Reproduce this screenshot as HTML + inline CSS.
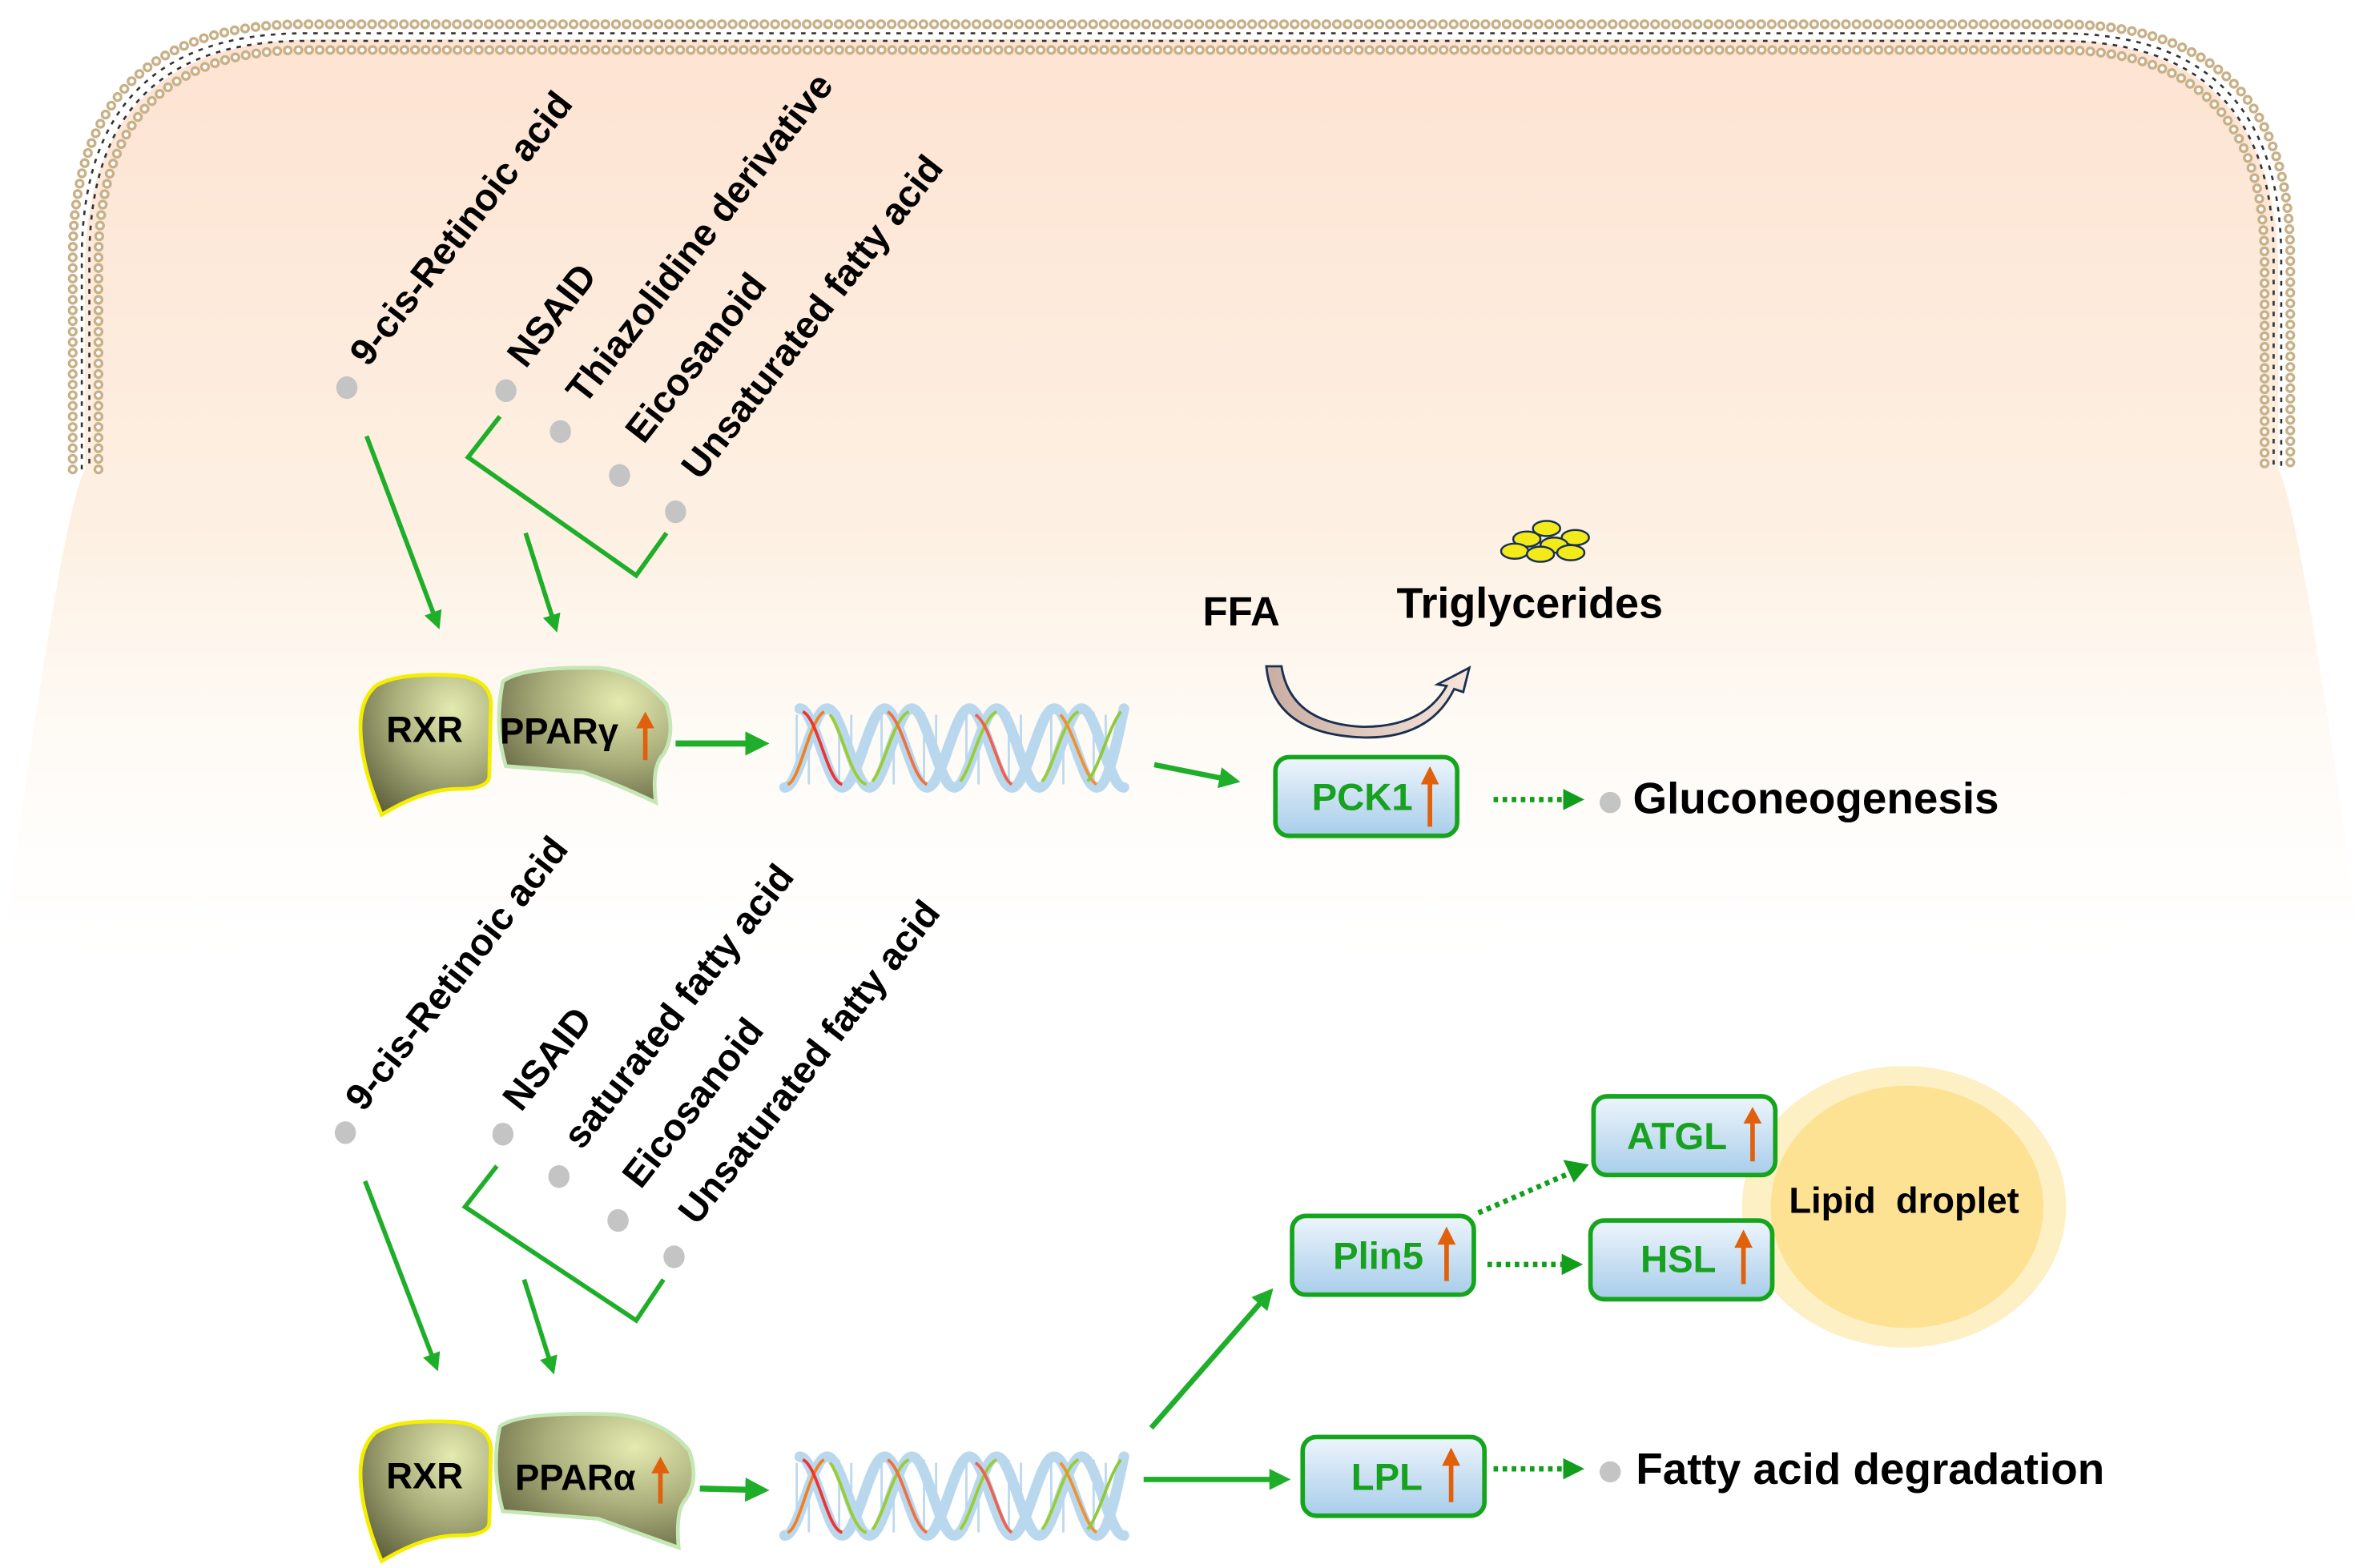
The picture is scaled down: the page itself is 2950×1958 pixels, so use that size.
<!DOCTYPE html>
<html><head><meta charset="utf-8"><style>
html,body{margin:0;padding:0;background:#fff;}
svg{display:block;}
text{font-family:"Liberation Sans",Arial,sans-serif;font-weight:bold;}
</style></head><body>
<svg width="2950" height="1958" viewBox="0 0 1560 1035.5" preserveAspectRatio="none" xmlns="http://www.w3.org/2000/svg">
<defs>
<linearGradient id="bg" x1="0" y1="0" x2="0" y2="1">
<stop offset="0" stop-color="#fde3d2"/><stop offset="0.55" stop-color="#fdf1e4"/><stop offset="1" stop-color="#fffdf8" stop-opacity="0"/>
</linearGradient>
<radialGradient id="prot" cx="0.7" cy="0.25" r="0.9">
<stop offset="0" stop-color="#e4ebb0"/><stop offset="0.5" stop-color="#a9ad7a"/><stop offset="1" stop-color="#5e5f3c"/>
</radialGradient>
<linearGradient id="box" x1="0" y1="0" x2="0" y2="1">
<stop offset="0" stop-color="#eef5fc"/><stop offset="1" stop-color="#a8cdea"/>
</linearGradient>
<linearGradient id="curv" x1="0" y1="0" x2="1" y2="0">
<stop offset="0" stop-color="#c9aea2"/><stop offset="1" stop-color="#f7e5da"/>
</linearGradient>
<marker id="ah" markerWidth="4" markerHeight="4" refX="2" refY="2" orient="auto" markerUnits="strokeWidth">
<path d="M0,0 L4,2 L0,4 Z" fill="#1fae2a"/></marker>
<g id="dna">
<g fill="none" stroke="#bcd9ef" stroke-width="1.5">
<path d="M8,6 V50 M16,4 V52 M36,4 V52 M44,6 V50 M64,6 V50 M72,4 V52 M92,4 V52 M100,6 V50 M120,6 V50 M128,4 V52 M148,4 V52 M156,6 V50 M176,6 V50 M184,4 V52 M204,4 V52 M212,6 V50"/>
</g>
<g fill="none" stroke="#b9d8ee" stroke-width="7" stroke-linecap="round">
<path d="M0,54 C10,54 18,2 28,2 C38,2 46,54 56,54 C66,54 74,2 84,2 C94,2 102,54 112,54 C122,54 130,2 140,2 C150,2 158,54 168,54 C178,54 186,2 196,2 C206,2 214,54 224,54"/>
<path d="M10,2 C20,2 28,54 38,54 C48,54 56,2 66,2 C76,2 84,54 94,54 C104,54 112,2 122,2 C132,2 140,54 150,54 C160,54 168,2 178,2 C188,2 196,54 206,54 C214,54 220,20 224,2"/>
</g>
<g fill="none" stroke-width="2">
<path d="M2,52 C10,50 16,10 26,4" stroke="#f08020"/>
<path d="M12,4 C22,8 28,50 38,52" stroke="#e33"/>
<path d="M30,6 C38,16 44,50 54,52" stroke="#9acd32"/>
<path d="M58,50 C66,40 72,8 82,4" stroke="#9acd32"/>
<path d="M68,4 C78,10 84,48 94,52" stroke="#f07040"/>
<path d="M116,50 C124,40 130,8 140,4" stroke="#9acd32"/>
<path d="M126,6 C136,12 142,48 150,52" stroke="#f06050"/>
<path d="M170,50 C178,40 184,8 194,4" stroke="#9acd32"/>
<path d="M182,6 C190,14 198,48 206,52" stroke="#f09030"/>
<path d="M200,50 C208,40 214,14 222,4" stroke="#8fc93a"/>
</g>
</g>
<g id="pair">
<path d="M248,453 Q262,444 300,446 Q326,448 324,468 L323,513 Q322,521 302,521 Q280,521 252,538 Q238,505 238,480 Q238,462 248,453 Z" fill="url(#prot)" stroke="#f5ee00" stroke-width="2.5"/>
<path d="M332,450 Q345,440 395,441 Q422,443 440,465 Q446,485 438,498 Q430,506 433,530 Q408,518 385,510 L334,506 Q326,480 332,450 Z" fill="url(#prot)" stroke="#c5e6b5" stroke-width="2.5"/>
</g>
<g id="bx"><rect x="0" y="0" width="120" height="52" rx="9" fill="url(#box)" stroke="#14a51c" stroke-width="3"/></g>
</defs>

<path d="M56,180 Q56,26 210,26 L1350,26 Q1504,26 1504,180 L1504,310 Q1520,340 1560,640 L0,640 Q40,340 56,310 Z" fill="url(#bg)"/>

<g fill="none" stroke-linecap="round">
<path d="M48,310 L48,170 Q48,16 200,16 L1360,16 Q1512,16 1512,170 L1512,310" stroke="#c8b088" stroke-width="6.5" stroke-dasharray="0 7"/>
<path d="M48,310 L48,170 Q48,16 200,16 L1360,16 Q1512,16 1512,170 L1512,310" stroke="#fff" stroke-width="3" stroke-dasharray="0 7"/>
<path d="M65,310 L65,172 Q65,33 202,33 L1358,33 Q1495,33 1495,172 L1495,310" stroke="#c8b088" stroke-width="6.5" stroke-dasharray="0 7"/>
<path d="M65,310 L65,172 Q65,33 202,33 L1358,33 Q1495,33 1495,172 L1495,310" stroke="#fff" stroke-width="3" stroke-dasharray="0 7"/>
<path d="M54,310 L54,171 Q54,22 201,22 L1359,22 Q1506,22 1506,171 L1506,310" stroke="#333" stroke-width="1.4" stroke-dasharray="3 4" stroke-linecap="butt"/>
<path d="M59,310 L59,171 Q59,27 201,27 L1359,27 Q1501,27 1501,171 L1501,310" stroke="#333" stroke-width="1.4" stroke-dasharray="3 4" stroke-dashoffset="3" stroke-linecap="butt"/>
</g>

<g font-size="25" fill="#000">
<text transform="translate(243,243) rotate(-52)">9-cis-Retinoic acid</text>
<text transform="translate(347,244) rotate(-52)">NSAID</text>
<text transform="translate(386,268) rotate(-52)">Thiazolidine derivative</text>
<text transform="translate(425,294) rotate(-52)">Eicosanoid</text>
<text transform="translate(462,318) rotate(-52)">Unsaturated fatty acid</text>
</g>
<g fill="#c4c4c4">
<ellipse cx="229" cy="256" rx="7" ry="7.5"/><ellipse cx="334" cy="258" rx="7" ry="7.5"/><ellipse cx="370" cy="285" rx="7" ry="7.5"/><ellipse cx="409" cy="314" rx="7" ry="7.5"/><ellipse cx="446" cy="338" rx="7" ry="7.5"/>
</g>
<g fill="none" stroke="#1fae2a" stroke-width="3">
<path d="M330,275 L309,302 L420,380 L440,352"/>
<path d="M242,288 L288,410" marker-end="url(#ah)"/>
<path d="M347,352 L366,412" marker-end="url(#ah)"/>
</g>
<use href="#pair"/>
<text x="255" y="490" font-size="24">RXR</text>
<text x="330" y="491" font-size="24">PPARγ</text>
<path d="M426,502 L426,478" stroke="#e0600c" stroke-width="3"/><path d="M420,481 L426,470 L432,481 Z" fill="#e0600c"/>
<path d="M446,491 L500,491" stroke="#1fae2a" stroke-width="4" fill="none" marker-end="url(#ah)"/>
<use href="#dna" transform="translate(518,466)"/>
<path d="M762,505 L812,515" stroke="#1fae2a" stroke-width="3.5" fill="none" marker-end="url(#ah)"/>

<text x="794" y="413" font-size="27">FFA</text>
<text x="922" y="408" font-size="28.5">Triglycerides</text>
<path d="M836,440 L846,440 Q852,478 900,480 Q940,480 955,453 L949,452 L970,441 L966,457 L960,455 Q944,488 900,487 Q840,485 836,440 Z" fill="url(#curv)" stroke="#1a3050" stroke-width="1.5"/>
<g fill="#f3ea1a" stroke="#1a3050" stroke-width="1.3">
<ellipse cx="1021" cy="349" rx="9" ry="5"/><ellipse cx="1008" cy="356" rx="9" ry="5"/><ellipse cx="1040" cy="355" rx="9" ry="5"/><ellipse cx="1026" cy="360" rx="9" ry="5"/><ellipse cx="1000" cy="364" rx="9" ry="5"/><ellipse cx="1017" cy="366" rx="9" ry="5"/><ellipse cx="1037" cy="365" rx="9" ry="5"/>
</g>

<use href="#bx" transform="translate(842,500)"/>
<text x="866" y="535" font-size="25" fill="#18a020">PCK1</text>
<path d="M944,546 L944,514" stroke="#e0600c" stroke-width="3"/><path d="M938,518 L944,506 L950,518 Z" fill="#e0600c"/>
<path d="M986,528 L1036,528" stroke="#129d1c" stroke-width="3.5" stroke-dasharray="3 3" fill="none"/><path d="M1032,521 L1046,528 L1032,535 Z" fill="#129d1c"/>
<circle cx="1063" cy="530" r="7" fill="#c4c4c4"/>
<text x="1078" y="537" font-size="29">Gluconeogenesis</text>

<g font-size="25" fill="#000">
<text transform="translate(240,735) rotate(-52)">9-cis-Retinoic acid</text>
<text transform="translate(344,735) rotate(-52)">NSAID</text>
<text transform="translate(384,760) rotate(-52)">saturated fatty acid</text>
<text transform="translate(423,786) rotate(-52)">Eicosanoid</text>
<text transform="translate(460,810) rotate(-52)">Unsaturated fatty acid</text>
</g>
<g fill="#c4c4c4">
<ellipse cx="228" cy="748" rx="7" ry="7.5"/><ellipse cx="332" cy="749" rx="7" ry="7.5"/><ellipse cx="369" cy="777" rx="7" ry="7.5"/><ellipse cx="408" cy="806" rx="7" ry="7.5"/><ellipse cx="445" cy="830" rx="7" ry="7.5"/>
</g>
<g fill="none" stroke="#1fae2a" stroke-width="3">
<path d="M328,770 L307,797 L420,872 L438,845"/>
<path d="M241,780 L287,900" marker-end="url(#ah)"/>
<path d="M346,845 L364,902" marker-end="url(#ah)"/>
</g>
<path d="M248,946 Q262,937 300,939 Q326,941 324,961 L323,1006 Q322,1014 302,1014 Q280,1014 252,1031 Q238,998 238,973 Q238,955 248,946 Z" fill="url(#prot)" stroke="#f5ee00" stroke-width="2.5"/>
<path d="M330,942 Q343,932 405,934 Q438,937 455,958 Q462,978 452,991 Q446,998 448,1022 Q420,1012 395,1003 L332,998 Q324,970 330,942 Z" fill="url(#prot)" stroke="#c5e6b5" stroke-width="2.5"/>
<text x="255" y="983" font-size="24">RXR</text>
<text x="340" y="984" font-size="24">PPARα</text>
<path d="M436,993 L436,970" stroke="#e0600c" stroke-width="3"/><path d="M430,973 L436,962 L442,973 Z" fill="#e0600c"/>
<path d="M462,983 L500,984" stroke="#1fae2a" stroke-width="4" fill="none" marker-end="url(#ah)"/>
<use href="#dna" transform="translate(518,960)"/>
<path d="M760,943 L836,856" stroke="#1fae2a" stroke-width="3.5" fill="none" marker-end="url(#ah)"/>
<path d="M755,977 L845,977" stroke="#1fae2a" stroke-width="3.5" fill="none" marker-end="url(#ah)"/>

<ellipse cx="1257" cy="797" rx="107" ry="93" fill="#fdf0c4"/>
<ellipse cx="1259" cy="797" rx="90" ry="80" fill="#fde294"/>
<text x="1257" y="801" font-size="24" text-anchor="middle" xml:space="preserve">Lipid  droplet</text>

<use href="#bx" transform="translate(1052,724)"/>
<text x="1074" y="759" font-size="25" fill="#18a020">ATGL</text>
<path d="M1157,767 L1157,738" stroke="#e0600c" stroke-width="3"/><path d="M1151,742 L1157,731 L1163,742 Z" fill="#e0600c"/>
<use href="#bx" transform="translate(1050,806)"/>
<text x="1083" y="840" font-size="25" fill="#18a020">HSL</text>
<path d="M1151,848 L1151,820" stroke="#e0600c" stroke-width="3"/><path d="M1145,824 L1151,812 L1157,824 Z" fill="#e0600c"/>
<use href="#bx" transform="translate(853,803)"/>
<text x="880" y="838" font-size="25" fill="#18a020">Plin5</text>
<path d="M955,846 L955,818" stroke="#e0600c" stroke-width="3"/><path d="M949,822 L955,810 L961,822 Z" fill="#e0600c"/>
<use href="#bx" transform="translate(860,949)"/>
<text x="892" y="984" font-size="25" fill="#18a020">LPL</text>
<path d="M958,992 L958,964" stroke="#e0600c" stroke-width="3"/><path d="M952,968 L958,956 L964,968 Z" fill="#e0600c"/>

<path d="M976,801 L1038,774" stroke="#129d1c" stroke-width="3.5" stroke-dasharray="3 3" fill="none"/><path d="M1032,766 L1049,769 L1039,781 Z" fill="#129d1c"/>
<path d="M982,835 L1034,835" stroke="#129d1c" stroke-width="3.5" stroke-dasharray="3 3" fill="none"/><path d="M1031,828 L1045,835 L1031,842 Z" fill="#129d1c"/>
<path d="M986,970 L1036,970" stroke="#129d1c" stroke-width="3.5" stroke-dasharray="3 3" fill="none"/><path d="M1032,963 L1046,970 L1032,977 Z" fill="#129d1c"/>
<circle cx="1063" cy="972" r="7" fill="#c4c4c4"/>
<text x="1080" y="980" font-size="29">Fatty acid degradation</text>
</svg>
</body></html>
